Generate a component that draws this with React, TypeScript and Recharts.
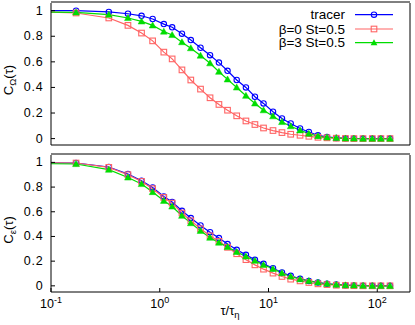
import { LineChart, Line, XAxis, YAxis } from "recharts";

// tau / tau_eta sample points (first one sits just left of the axis and is clipped)
const tau = [0.085, 0.17, 0.34, 0.51, 0.68, 0.86, 1.09, 1.3, 1.6, 1.93, 2.37, 2.9, 3.5, 4.2, 5.1, 6.2, 7.5, 9.0, 11, 13.3, 16, 19.5, 23.5, 28.5, 34.5, 42, 51, 61, 74, 90, 108, 131];

const omegaTracer = [1.0, 1.0, 0.99, 0.976, 0.96, 0.935, 0.895, 0.87, 0.82, 0.77, 0.71, 0.652, 0.594, 0.53, 0.458, 0.4, 0.327, 0.275, 0.21, 0.157, 0.118, 0.079, 0.052, 0.026, 0.013, 0.005, 0.002, 0.001, 0, 0, 0, 0];
const omegaB0 = [0.99, 0.982, 0.943, 0.885, 0.825, 0.764, 0.676, 0.623, 0.537, 0.458, 0.387, 0.319, 0.267, 0.222, 0.178, 0.138, 0.11, 0.083, 0.063, 0.047, 0.034, 0.026, 0.018, 0.01, 0.006, 0.003, 0.001, 0, 0, 0, 0, 0];
const omegaB3 = [0.99, 0.987, 0.969, 0.943, 0.916, 0.885, 0.837, 0.81, 0.754, 0.707, 0.649, 0.589, 0.523, 0.463, 0.4, 0.335, 0.275, 0.222, 0.175, 0.13, 0.097, 0.065, 0.039, 0.02, 0.01, 0.005, 0.002, 0.001, 0, 0, 0, 0];

const epsTracer = [0.997, 0.995, 0.963, 0.906, 0.851, 0.797, 0.724, 0.679, 0.608, 0.549, 0.489, 0.435, 0.387, 0.338, 0.292, 0.251, 0.211, 0.178, 0.143, 0.108, 0.081, 0.057, 0.04, 0.027, 0.016, 0.01, 0.005, 0.003, 0.001, 0, 0, 0];
const epsB0 = [0.997, 0.995, 0.96, 0.9, 0.846, 0.787, 0.716, 0.67, 0.59, 0.527, 0.462, 0.405, 0.36, 0.312, 0.26, 0.212, 0.17, 0.135, 0.103, 0.076, 0.054, 0.04, 0.027, 0.016, 0.01, 0.005, 0.003, 0.001, 0, 0, 0, 0];
const epsB3 = [0.99, 0.987, 0.941, 0.878, 0.825, 0.76, 0.689, 0.643, 0.568, 0.508, 0.446, 0.39, 0.35, 0.315, 0.275, 0.238, 0.203, 0.17, 0.138, 0.103, 0.076, 0.054, 0.04, 0.027, 0.017, 0.01, 0.005, 0.003, 0.001, 0, 0, 0];

const xMajor = [0.1, 1, 10, 100];
const xMinor = [0.25, 0.5, 0.75, 2.5, 5, 7.5, 25, 50, 75];
const yTicks = [0, 0.2, 0.4, 0.6, 0.8, 1];

const seriesNames = ["tracer", "\u03b2=0 St=0.5", "\u03b2=3 St=0.5"];
const COLORS = ["#0000ff", "#ff6464", "#00dd00"];

const X_DOMAIN = [0.1, 200];
const Y_DOMAIN = [-0.05, 1.06];
const FONT = "'Liberation Sans', Arial, Helvetica, sans-serif";
const AXIS_LINE = { stroke: "#000", strokeWidth: 1 };
const TICK_LINE = { stroke: "#000", strokeWidth: 1 };

const topData = tau.map((t, i) => ({ tau: t, tracer: omegaTracer[i], b0: omegaB0[i], b3: omegaB3[i] }));
const bottomData = tau.map((t, i) => ({ tau: t, tracer: epsTracer[i], b0: epsB0[i], b3: epsB3[i] }));

function Circle({ cx, cy, color, index, payload }: any) {
  if (payload && payload.tau < 0.1) return <g key={`c-${index}`} />;
  return <circle key={`c-${index}`} cx={cx} cy={cy} r={2.7} fill="none" stroke={color} strokeWidth={1.1} />;
}

function Square({ cx, cy, color, index, payload }: any) {
  if (payload && payload.tau < 0.1) return <g key={`s-${index}`} />;
  return <rect key={`s-${index}`} x={cx - 2.8} y={cy - 2.8} width={5.6} height={5.6} fill="none" stroke={color} strokeWidth={1.1} />;
}

function Triangle({ cx, cy, color, index, payload }: any) {
  if (payload && payload.tau < 0.1) return <g key={`t-${index}`} />;
  return <path key={`t-${index}`} d={`M${cx},${cy - 3.4}L${cx + 3.4},${cy + 2.6}L${cx - 3.4},${cy + 2.6}Z`} fill={color} stroke={color} strokeWidth={0.5} />;
}

function YTick({ x, y, payload }: any) {
  return (
    <text x={x} y={y} textAnchor="end" dominantBaseline="central" fontSize={12.5} fontFamily={FONT} letterSpacing={0.8} fill="#000">
      {String(payload.value)}
    </text>
  );
}

function XTick({ x, y, payload }: any) {
  const exp = Math.round(Math.log10(payload.value));
  return (
    <text x={x} y={y} textAnchor="middle" fontSize={12.5} fontFamily={FONT} fill="#000">
      10<tspan dy={-5} fontSize={9}>{exp}</tspan>
    </text>
  );
}

function Panel({ data, height, margin, showLabels }: any) {
  const xCommon = { dataKey: "tau", type: "number" as const, scale: "log" as const, domain: X_DOMAIN, allowDataOverflow: true, ticks: xMajor, interval: 0 as const, height: 1, tickLine: TICK_LINE };
  return (
    <LineChart width={415} height={height} data={data} margin={margin}>
      <XAxis {...xCommon} xAxisId="main" orientation="bottom" tickSize={-4} tickMargin={20} axisLine={AXIS_LINE} tick={showLabels ? <XTick /> : false} />
      <XAxis {...xCommon} xAxisId="minorB" orientation="bottom" ticks={xMinor} tickSize={-2} axisLine={false} tick={false} />
      <XAxis {...xCommon} xAxisId="top" orientation="top" tickSize={-4} axisLine={AXIS_LINE} tick={false} />
      <XAxis {...xCommon} xAxisId="minorT" orientation="top" ticks={xMinor} tickSize={-2} axisLine={false} tick={false} />
      <YAxis yAxisId="left" type="number" domain={Y_DOMAIN} allowDataOverflow ticks={yTicks} interval={0} width={45} tickSize={-4} tickMargin={11.5} axisLine={AXIS_LINE} tickLine={TICK_LINE} tick={<YTick />} />
      <YAxis yAxisId="right" orientation="right" type="number" domain={Y_DOMAIN} allowDataOverflow ticks={yTicks} interval={0} width={1} tickSize={-4} tick={false} axisLine={AXIS_LINE} tickLine={TICK_LINE} />
      <Line xAxisId="main" yAxisId="left" dataKey="tracer" stroke={COLORS[0]} strokeWidth={1.2} dot={(p: any) => <Circle {...p} color={COLORS[0]} />} isAnimationActive={false} />
      <Line xAxisId="main" yAxisId="left" dataKey="b0" stroke={COLORS[1]} strokeWidth={1.2} dot={(p: any) => <Square {...p} color={COLORS[1]} />} isAnimationActive={false} />
      <Line xAxisId="main" yAxisId="left" dataKey="b3" stroke={COLORS[2]} strokeWidth={1.2} dot={(p: any) => <Triangle {...p} color={COLORS[2]} />} isAnimationActive={false} />
    </LineChart>
  );
}

function Overlay() {
  const markers = [
    (cx: number, cy: number) => <circle cx={cx} cy={cy} r={2.7} fill="none" stroke={COLORS[0]} strokeWidth={1.1} />,
    (cx: number, cy: number) => <rect x={cx - 2.8} y={cy - 2.8} width={5.6} height={5.6} fill="none" stroke={COLORS[1]} strokeWidth={1.1} />,
    (cx: number, cy: number) => <path d={`M${cx},${cy - 3.4}L${cx + 3.4},${cy + 2.6}L${cx - 3.4},${cy + 2.6}Z`} fill={COLORS[2]} />,
  ];
  const rowY = [14.7, 29, 42.7];
  return (
    <svg width={415} height={325} style={{ position: "absolute", left: 0, top: 0, pointerEvents: "none" }} fontFamily={FONT}>
      {seriesNames.map((name, i) => (
        <g key={name}>
          <text x={345} y={rowY[i]} textAnchor="end" dominantBaseline="central" fontSize={13.5}>{name}</text>
          <line x1={355} x2={393} y1={rowY[i]} y2={rowY[i]} stroke={COLORS[i]} strokeWidth={1.2} />
          {markers[i](374, rowY[i])}
        </g>
      ))}
      <text transform="translate(13,80) rotate(-90)" textAnchor="middle" fontSize={13}>
        C<tspan dy={3} fontSize={9.5}>{"\u03a9"}</tspan><tspan dy={-3}>({"\u03c4"})</tspan>
      </text>
      <text transform="translate(13,230) rotate(-90)" textAnchor="middle" fontSize={13}>
        C<tspan dy={3} fontSize={9.5}>{"\u03b5"}</tspan><tspan dy={-3}>({"\u03c4"})</tspan>
      </text>
      <text x={230} y={315} textAnchor="middle" fontSize={13}>
        {"\u03c4/\u03c4"}<tspan dy={3} fontSize={9.5}>{"\u03b7"}</tspan>
      </text>
    </svg>
  );
}

export default function App() {
  return (
    <div style={{ position: "absolute", left: 0, top: 0, width: 415, height: 325, background: "#fff" }}>
      <div style={{ position: "absolute", left: 0, top: 0 }}>
        <Panel data={topData} height={150} margin={{ top: 1, right: 4, bottom: 3, left: 6 }} showLabels={false} />
      </div>
      <div style={{ position: "absolute", left: 0, top: 150 }}>
        <Panel data={bottomData} height={175} margin={{ top: 3, right: 4, bottom: 31, left: 6 }} showLabels />
      </div>
      <Overlay />
    </div>
  );
}
